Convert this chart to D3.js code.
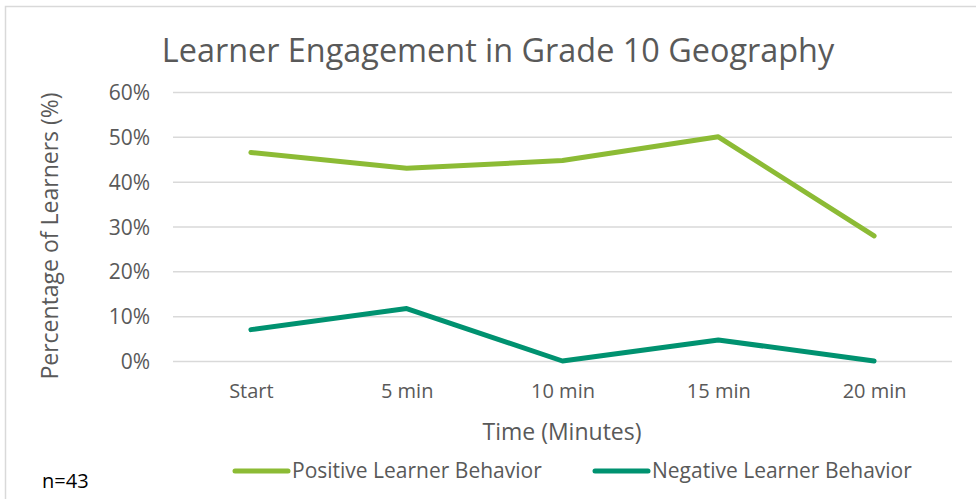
<!DOCTYPE html>
<html>
<head>
<meta charset="utf-8">
<script src="https://cdn.jsdelivr.net/npm/d3@7"></script>
<style>
  body { margin: 0; background: #fff; }
  svg { display: block; font-family: 'Open Sans', sans-serif; }
</style>
</head>
<body>
<svg></svg>
<script>
// categories along the x axis
let categories = ['Start', '5 min', '10 min', '15 min', '20 min']
// percentages (n=43)
let positive = [46.5, 43.0, 44.7, 50.0, 27.9]
let negative = [7.0, 11.7, 0, 4.7, 0]
let yTicks = [0, 10, 20, 30, 40, 50, 60]

let seriesNames = ['Positive Learner Behavior', 'Negative Learner Behavior']
let seriesColors = ['#8cbb35', '#009270']

let width = 976
let height = 499

let svg = d3.select('svg')
    .attr('width', width)
    .attr('height', height)

// chart border
svg.append('rect')
    .attr('x', 5.5).attr('y', 6.5)
    .attr('width', 990).attr('height', 520)
    .attr('fill', 'none')
    .attr('stroke', '#d9d9d9')
    .attr('stroke-width', 1.5)

let xScale = d3.scalePoint()
    .domain(categories)
    .range([173, 952])
    .padding(0.5)

let yScale = d3.scaleLinear()
    .domain([0, 60])
    .range([361, 92])

// y axis with gridlines
let yAxis = d3.axisLeft(yScale)
    .tickValues(yTicks)
    .tickSize(-(952 - 173))
    .tickPadding(23)
    .tickFormat(d => d + '%')

let gy = svg.append('g')
    .attr('transform', 'translate(173,0)')
    .call(yAxis)
gy.select('.domain').remove()
gy.selectAll('.tick line').attr('stroke', '#d9d9d9').attr('stroke-width', 1.5)
gy.selectAll('.tick text')
    .attr('fill', '#595959')
    .attr('dy', '0.36em')
    .style('font-size', '21px')
    .style('font-family', 'Open Sans')

let xAxis = d3.axisBottom(xScale)
    .tickSize(0)
    .tickPadding(23)

let gx = svg.append('g')
    .attr('transform', 'translate(0,361)')
    .call(xAxis)
gx.select('.domain').remove()
gx.selectAll('.tick text')
    .attr('fill', '#595959')
    .style('font-size', '20px')
    .style('font-family', 'Open Sans')

// lines
let line = d3.line()
    .x((d, i) => xScale(categories[i]))
    .y(d => yScale(d))

;[positive, negative].forEach((vals, k) => {
    svg.append('path')
        .datum(vals)
        .attr('d', line)
        .attr('fill', 'none')
        .attr('stroke', seriesColors[k])
        .attr('stroke-width', 5)
        .attr('stroke-linecap', 'round')
        .attr('stroke-linejoin', 'round')
})

// title
svg.append('text')
    .attr('x', 498).attr('y', 62)
    .attr('text-anchor', 'middle')
    .attr('fill', '#595959')
    .style('font-size', '32.4px')
    .text('Learner Engagement in Grade 10 Geography')

// axis titles
svg.append('text')
    .attr('transform', 'translate(58,236) rotate(-90)')
    .attr('text-anchor', 'middle')
    .attr('fill', '#595959')
    .style('font-size', '23px')
    .text('Percentage of Learners (%)')

svg.append('text')
    .attr('x', 562).attr('y', 440)
    .attr('text-anchor', 'middle')
    .attr('fill', '#595959')
    .style('font-size', '23px')
    .text('Time (Minutes)')

// legend
let legendX = [233, 593]
seriesNames.forEach((name, k) => {
    let g = svg.append('g').attr('transform', 'translate(' + legendX[k] + ',471)')
    g.append('line')
        .attr('x1', 2).attr('x2', 55)
        .attr('stroke', seriesColors[k])
        .attr('stroke-width', 5)
        .attr('stroke-linecap', 'round')
    g.append('text')
        .attr('x', 59).attr('y', 7)
        .attr('fill', '#595959')
        .style('font-size', '21px')
        .text(name)
})

svg.append('text')
    .attr('x', 42).attr('y', 488)
    .attr('fill', '#000')
    .style('font-size', '20px')
    .text('n=43')
</script>
</body>
</html>
